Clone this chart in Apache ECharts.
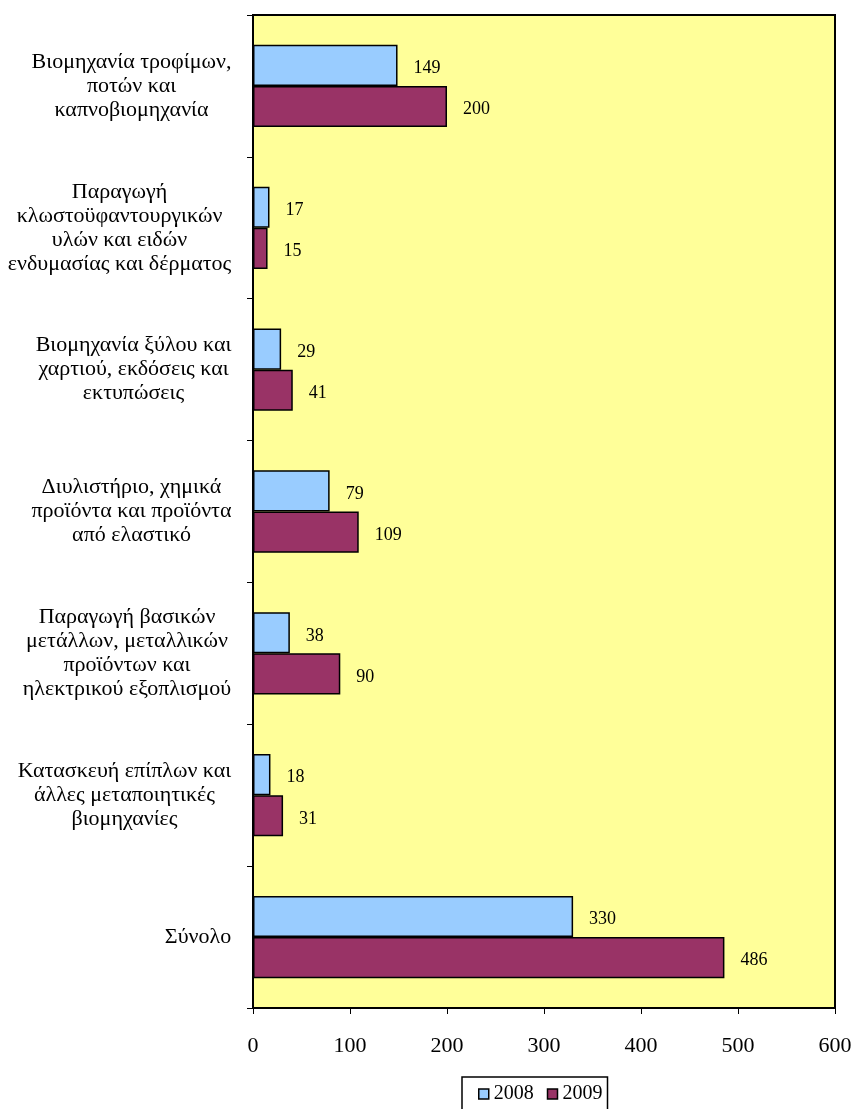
<!DOCTYPE html>
<html><head><meta charset="utf-8">
<script src="https://cdn.jsdelivr.net/npm/echarts@6/dist/echarts.min.js"></script>
<style>html,body{margin:0;padding:0;background:#fff}#c{width:856px;height:1109px}</style>
</head><body><div id="c"></div>
<script>
const categories = [
  'Βιομηχανία τροφίμων,\nποτών και\nκαπνοβιομηχανία',
  'Παραγωγή\nκλωστοϋφαντουργικών\nυλών και ειδών\nενδυμασίας και δέρματος',
  'Βιομηχανία ξύλου και\nχαρτιού, εκδόσεις και\nεκτυπώσεις',
  'Διυλιστήριο, χημικά\nπροϊόντα και προϊόντα\nαπό ελαστικό',
  'Παραγωγή βασικών\nμετάλλων, μεταλλικών\nπροϊόντων και\nηλεκτρικού εξοπλισμού',
  'Κατασκευή επίπλων και\nάλλες μεταποιητικές\nβιομηχανίες',
  'Σύνολο'
];
const values2008 = [149, 17, 29, 79, 38, 18, 330];
const values2009 = [200, 15, 41, 109, 90, 31, 486];
const seriesNames = ['2008', '2009'];

const font = 'Liberation Serif';
const catFontSize = 22;

// measure each label's widest line so lines can be centred inside a right-aligned block
const ctx = document.createElement('canvas').getContext('2d');
ctx.font = catFontSize + 'px "' + font + '"';
const rich = {};
categories.forEach((c, i) => {
  const w = Math.max(...c.split('\n').map(l => ctx.measureText(l).width));
  rich['w' + i] = {
    width: Math.ceil(w) + 1, align: 'center',
    fontFamily: font, fontSize: catFontSize, color: '#000', lineHeight: 24
  };
});

const chart = echarts.init(document.getElementById('c'));
const labelCfg = {
  show: true, position: 'right', distance: 16, offset: [0, 3],
  color: '#000', fontFamily: font, fontSize: 18
};
chart.setOption({
  animation: false,
  grid: {
    left: 253, top: 15, right: 21, bottom: 101,
    show: true, backgroundColor: '#FFFF99', borderColor: '#000', borderWidth: 2
  },
  legend: {
    top: 1077, left: 462,
    data: seriesNames,
    itemWidth: 10, itemHeight: 10, itemGap: 13,
    icon: 'rect',
    padding: [7, 5, 12, 16],
    borderColor: '#000', borderWidth: 1.5,
    itemStyle: { borderColor: '#000', borderWidth: 1.5 },
    textStyle: { fontFamily: font, fontSize: 20, color: '#000' }
  },
  xAxis: {
    type: 'value', min: 0, max: 600, interval: 100,
    axisLine: { show: true, lineStyle: { color: '#000', width: 1 } },
    axisTick: { show: true, length: 6, lineStyle: { color: '#000' } },
    splitLine: { show: false },
    axisLabel: { fontFamily: font, fontSize: 22, color: '#000', margin: 27 }
  },
  yAxis: {
    type: 'category', data: categories, inverse: true,
    axisLine: { show: true, lineStyle: { color: '#000', width: 2 } },
    axisTick: { show: true, length: 6, lineStyle: { color: '#000' } },
    axisLabel: {
      fontFamily: font, fontSize: catFontSize, color: '#000', align: 'right',
      margin: 21, lineHeight: 24,
      formatter: (val, idx) => val.split('\n').map(l => '{w' + idx + '|' + l + '}').join('\n'),
      rich: rich
    }
  },
  series: [
    {
      name: seriesNames[0], type: 'bar', data: values2008,
      barCategoryGap: '42%', barGap: '0%',
      itemStyle: { color: '#99CCFF', borderColor: '#000', borderWidth: 1.5 },
      label: labelCfg
    },
    {
      name: seriesNames[1], type: 'bar', data: values2009,
      barCategoryGap: '42%', barGap: '0%',
      itemStyle: { color: '#993366', borderColor: '#000', borderWidth: 1.5 },
      label: labelCfg
    }
  ]
});
</script></body></html>
